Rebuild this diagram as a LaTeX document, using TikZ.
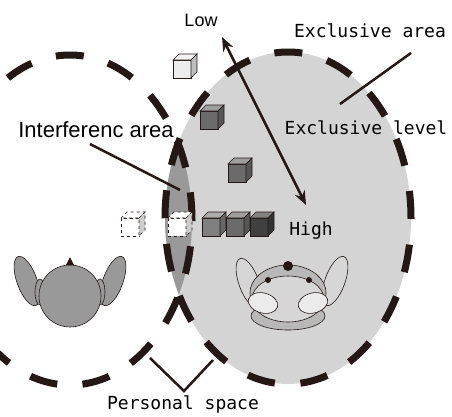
\documentclass[tikz,border=0pt]{standalone}
\usepackage{fontspec}
\setmainfont{Liberation Sans}
\newfontfamily\labelfont{DejaVu Sans Mono}
\usetikzlibrary{arrows.meta}

\definecolor{inkblack}{HTML}{231815}
\definecolor{areagray}{gray}{0.83}
\definecolor{lensgray}{gray}{0.6}
\definecolor{headgray}{gray}{0.6}
\definecolor{shellgray}{gray}{0.72}
\definecolor{facegray}{gray}{0.84}
\definecolor{cheekgray}{gray}{0.92}
\definecolor{boxpale}{gray}{0.93}
\definecolor{boxwhite}{gray}{1}
\definecolor{boxmid}{gray}{0.5}
\definecolor{boxdim}{gray}{0.42}
\definecolor{boxdark}{gray}{0.25}

% small box drawn in cabinet view: x, y, fill, line style
\newcommand{\blockcube}[4]{%
  \filldraw[#4, fill=#3] (#1-12,#2-6) rectangle (#1+6,#2+12);
  \filldraw[#4, fill=#3!65!white] (#1-12,#2-6) -- (#1-6,#2-12) -- (#1+12,#2-12) -- (#1+6,#2-6) -- cycle;
  \filldraw[#4, fill=#3!80!black] (#1+6,#2-6) -- (#1+12,#2-12) -- (#1+12,#2+6) -- (#1+6,#2+12) -- cycle;
}

\begin{document}
\begin{tikzpicture}[x=1pt, y=-1pt,
  area/.style={line width=7pt, dash pattern=on 28pt off 25.7pt, dash phase=27pt, color=inkblack},
  lead/.style={line width=2.5pt, color=inkblack},
  mono/.style={font=\labelfont\fontsize{18}{18}\selectfont, inner sep=0pt},
  sans/.style={font=\fontsize{22}{22}\selectfont, inner sep=0pt},
  part/.style={draw=inkblack, line width=0.6pt},
  boxline/.style={draw=inkblack, line width=0.6pt}]

\useasboundingbox (0,0) rectangle (452,416);

% exclusive area and the overlap with the other personal space
\fill[areagray] (288,218) ellipse [x radius=123, y radius=166];
\begin{scope}
  \clip (70,220) ellipse [x radius=122, y radius=165];
  \fill[lensgray] (288,218) ellipse [x radius=123, y radius=166];
\end{scope}
\draw[area, dash pattern=on 28pt off 25.3pt] (70,220) ellipse [x radius=122, y radius=165];
\draw[area] (288,218) ellipse [x radius=123, y radius=166];

% boxes, from low to high exclusive level
\blockcube{185}{66}{boxpale}{boxline}
\blockcube{212}{117}{boxdim}{boxline}
\blockcube{240}{170}{boxdim}{boxline}
\blockcube{133}{224}{boxwhite}{boxline, dashed}
\blockcube{180}{224}{boxwhite}{boxline, dashed}
\blockcube{214}{224}{boxmid}{boxline}
\blockcube{238}{224}{boxdim}{boxline}
\blockcube{262}{224}{boxdark}{boxline}

% left robot
\fill[headgray, part] (27,281) ellipse [x radius=10, y radius=26, rotate=20];
\fill[headgray, part] (113,281) ellipse [x radius=10, y radius=26, rotate=-20];
\fill[headgray, part] (40,292) ellipse [x radius=5, y radius=13];
\fill[headgray, part] (100,292) ellipse [x radius=5, y radius=13];
\fill[headgray, part] (70,296) circle [radius=31];
\fill[inkblack] (70,257) -- (66,265) -- (74,265) -- cycle;

% right robot
\fill[facegray, part] (249,283) ellipse [x radius=10, y radius=26, rotate=20];
\fill[facegray, part] (335,281) ellipse [x radius=10, y radius=26, rotate=-20];
\fill[shellgray, part] (288,316) ellipse [x radius=37, y radius=14];
\fill[shellgray, part] (288,293) ellipse [x radius=38, y radius=28];
\fill[facegray, part] (288,299) ellipse [x radius=36, y radius=23];
\fill[cheekgray, part] (263,303) ellipse [x radius=15, y radius=10, rotate=-15];
\fill[cheekgray, part] (313,303) ellipse [x radius=15, y radius=10, rotate=15];
\fill[inkblack] (288,266) circle [radius=5];
\fill[inkblack] (268,280) circle [radius=3];
\fill[inkblack] (309,280) circle [radius=3];

% labels
\node[sans, font=\fontsize{18}{18}\selectfont] (low) at (201,20) {Low};
\node[mono] (excl) at (370,31) {Exclusive area};
\node[mono] (level) at (366,128) {Exclusive level};
\node[sans] (interf) at (96,130) {Interferenc area};
\node[mono] (high) at (311,231) {High};
\node[mono] (pspace) at (183,404) {Personal space};

% leader lines
\coordinate (excl-from) at (411,53);
\coordinate (excl-to) at (340,104);
\draw[lead] (excl-from) -- (excl-to);
\coordinate (interf-from) at (90,144);
\coordinate (interf-to) at (180,190);
\draw[lead] (interf-from) -- (interf-to);

% personal space bracket
\coordinate (ps-left) at (150,358);
\coordinate (ps-mid) at (184,391);
\coordinate (ps-right) at (213,360);
\draw[lead] (ps-left) -- (ps-mid) -- (ps-right);

% exclusive level axis
\coordinate (low-end) at (222,37);
\coordinate (high-end) at (306,205);
\draw[lead, {Stealth[length=14pt,width=11pt]}-{Stealth[length=14pt,width=11pt]}] (low-end) -- (high-end);
\end{tikzpicture}
\end{document}
